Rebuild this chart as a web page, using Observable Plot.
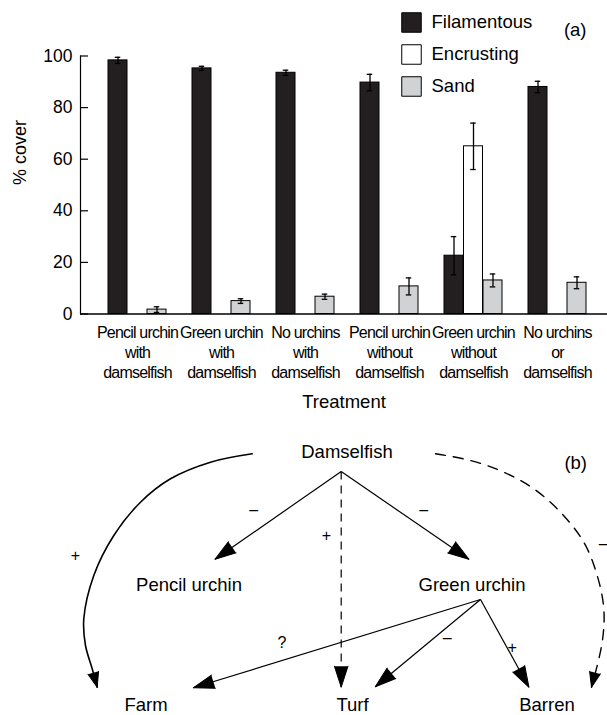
<!DOCTYPE html>
<html><head><meta charset="utf-8">
<script src="https://cdn.jsdelivr.net/npm/d3@7"></script>
<script src="https://cdn.jsdelivr.net/npm/@observablehq/plot@0.6"></script>
<style>
body{margin:0;background:#fff;}
#fig{position:relative;width:607px;height:715px;font-family:"Liberation Sans",Arial,Helvetica,sans-serif;}
#fig svg{display:block;}
#legend{position:absolute;left:401px;top:0;}
#a g[aria-label="x-axis tick label"]{letter-spacing:-0.8px;}
</style></head><body>
<div id="fig"><div id="a"></div><div id="b"></div><div id="legend"></div></div>
<script>
// ---------- Data: panel (a) ----------
const treatments = [
  "Pencil urchin\nwith\ndamselfish",
  "Green urchin\nwith\ndamselfish",
  "No urchins\nwith\ndamselfish",
  "Pencil urchin\nwithout\ndamselfish",
  "Green urchin\nwithout\ndamselfish",
  "No urchins\nor\ndamselfish"
];
const seriesNames = ["Filamentous", "Encrusting", "Sand"];
const seriesColors = ["#231f20", "#ffffff", "#d1d2d4"];
const filamentous    = [98.3, 95.2, 93.5, 89.7, 22.6, 88.0];
const filamentousErr = [1.2, 0.8, 1.0, 3.2, 7.4, 2.2];
const encrusting     = [0, 0, 0, 0, 65.0, 0];
const encrustingErr  = [0, 0, 0, 0, 9.0, 0];
const sand           = [1.7, 5.0, 6.7, 10.7, 13.0, 12.1];
const sandErr        = [1.1, 0.9, 1.0, 3.3, 2.5, 2.3];
const yTicks = [0, 20, 40, 60, 80, 100];

// ---------- Data: panel (b) diagram ----------
const nodeNames = ["Damselfish", "Pencil urchin", "Green urchin", "Farm", "Turf", "Barren"];
const nodeX = [346.5, 188.5, 471.5, 145.5, 352, 546.5];
const nodeY = [37, 170, 170, 290, 290, 290];
const arrowX1 = [340.7, 340.7, 340.7, 480, 480, 480];
const arrowY1 = [56, 56, 56, 184, 184, 184];
const arrowX2 = [214.5, 468.4, 340.7, 192.8, 374.8, 528.4];
const arrowY2 = [143.8, 143.8, 271.7, 272.3, 271.2, 271.7];
const arrowDashed = [false, false, true, false, false, false];
const leftCurveX = [251.7, 210, 170, 140, 113.3, 93.3, 83.3, 85, 91.7, 96.7];
const leftCurveY = [38.3, 46.7, 63.3, 86.7, 120, 160, 203.3, 230, 253.3, 271.7];
const rightCurveX = [435, 470, 503.3, 533.3, 560, 583.3, 596.7, 603.3, 601.7, 591];
const rightCurveY = [38.3, 45, 56.7, 73.3, 96.7, 126.7, 160, 193.3, 226.7, 271.7];
const signText = ["–", "–", "+", "+", "–", "?", "–", "+"];
const signX = [253.3, 423.3, 326, 75, 602.7, 281.5, 446.7, 511.7];
const signY = [94, 94, 120, 140, 128, 227, 222, 232];

// ---------- Build tables ----------
const seriesValues = [filamentous, encrusting, sand];
const seriesErrs = [filamentousErr, encrustingErr, sandErr];
const rows = [];
treatments.forEach((t, i) => seriesNames.forEach((s, k) => rows.push({treatment: t, series: s, k, value: seriesValues[k][i], err: seriesErrs[k][i]})));

const FONT = '"Liberation Sans", Arial, Helvetica, sans-serif';
const bw = 19.5;           // one bar's width within a 3-bar group
const capInset = (3 * bw - 6) / 2;
const seriesLayout = [
  {insetLeft: 0, insetRight: 2 * bw, dx: -bw},
  {insetLeft: bw, insetRight: bw, dx: 0},
  {insetLeft: 2 * bw, insetRight: 0, dx: bw}
];

const marksA = [];
seriesNames.forEach((s, k) => {
  const d = rows.filter(r => r.series === s);
  const L = seriesLayout[k];
  marksA.push(Plot.barY(d, {x: "treatment", y: "value", fill: "series", stroke: "#000", strokeWidth: 1, insetLeft: L.insetLeft, insetRight: L.insetRight}));
});
seriesNames.forEach((s, k) => {
  const d = rows.filter(r => r.series === s && r.err > 0);
  const L = seriesLayout[k];
  marksA.push(Plot.ruleX(d, {x: "treatment", y1: r => r.value - r.err, y2: r => r.value + r.err, dx: L.dx, stroke: "#000", strokeWidth: 1.3}));
  marksA.push(Plot.tickY(d, {x: "treatment", y: r => r.value + r.err, dx: L.dx, insetLeft: capInset, insetRight: capInset, stroke: "#000", strokeWidth: 1.3}));
  marksA.push(Plot.tickY(d, {x: "treatment", y: r => r.value - r.err, dx: L.dx, insetLeft: capInset, insetRight: capInset, stroke: "#000", strokeWidth: 1.3}));
});
marksA.push(Plot.ruleY([0], {stroke: "#000", strokeWidth: 1.6}));
marksA.push(Plot.frame({anchor: "left", stroke: "#000", strokeWidth: 1.2}));
marksA.push(Plot.axisY({ticks: yTicks, tickSize: 8, dx: 8, tickPadding: 8, fontSize: 17.5, label: null, stroke: "#000", strokeWidth: 1.2}));
marksA.push(Plot.axisX({tickSize: 0, tickPadding: 9.5, fontSize: 16, lineHeight: 1.25, label: null}));
marksA.push(Plot.text(["% cover"], {frameAnchor: "left", dx: -60, rotate: -90, fontSize: 18}));
marksA.push(Plot.text(["Treatment"], {frameAnchor: "bottom", dy: 94, fontSize: 18.5}));
marksA.push(Plot.text(["(a)"], {frameAnchor: "top-right", dx: -21, dy: -33.5, fontSize: 18.5}));

const chartA = Plot.plot({
  width: 607, height: 415,
  marginLeft: 80, marginRight: 0, marginTop: 55.5, marginBottom: 101.5,
  style: {fontFamily: FONT, fontSize: "16px", background: "#fff", color: "#000"},
  x: {domain: treatments, paddingInner: 0.306, paddingOuter: 0.279, align: 0.585, axis: null},
  y: {domain: [0, 100], axis: null},
  color: {domain: seriesNames, range: seriesColors},
  marks: marksA
});
document.getElementById("a").appendChild(chartA);

// ---------- Legend ----------
const legend = Plot.plot({
  width: 170, height: 108,
  marginTop: 22, marginBottom: 22, marginLeft: 0, marginRight: 0,
  style: {fontFamily: FONT, background: "transparent", color: "#000"},
  y: {type: "point", domain: seriesNames, padding: 0, axis: null},
  color: {domain: seriesNames, range: seriesColors},
  marks: [
    Plot.dot(seriesNames, {y: d => d, fill: d => d, symbol: "square", r: 11, stroke: "#000", strokeWidth: 1, frameAnchor: "left", dx: 10}),
    Plot.text(seriesNames, {y: d => d, text: d => d, frameAnchor: "left", dx: 30, textAnchor: "start", fontSize: 18.5})
  ]
});
document.getElementById("legend").appendChild(legend);

// ---------- Panel (b) ----------
const nodes = nodeNames.map((n, i) => ({name: n, x: nodeX[i], y: nodeY[i]}));
const arrows = arrowX1.map((_, i) => ({x1: arrowX1[i], y1: arrowY1[i], x2: arrowX2[i], y2: arrowY2[i], dashed: arrowDashed[i]}));
const heading = (x1, y1, x2, y2) => Math.atan2(x2 - x1, -(y2 - y1)) * 180 / Math.PI;
const heads = arrows.map(a => ({x: a.x2, y: a.y2, angle: heading(a.x1, a.y1, a.x2, a.y2)}));
const leftCurve = leftCurveX.map((x, i) => ({x, y: leftCurveY[i]}));
const rightCurve = rightCurveX.map((x, i) => ({x, y: rightCurveY[i]}));
const nL = leftCurve.length, nR = rightCurve.length;
const curveHeads = [
  {x: leftCurve[nL - 1].x, y: leftCurve[nL - 1].y, angle: heading(leftCurve[nL - 2].x, leftCurve[nL - 2].y, leftCurve[nL - 1].x, leftCurve[nL - 1].y)},
  {x: rightCurve[nR - 1].x, y: rightCurve[nR - 1].y, angle: heading(rightCurve[nR - 2].x, rightCurve[nR - 2].y, rightCurve[nR - 1].x, rightCurve[nR - 1].y)}
];
const signs = signText.map((t, i) => ({t, x: signX[i], y: signY[i]}));

const chartB = Plot.plot({
  width: 607, height: 300,
  margin: 0,
  style: {fontFamily: FONT, background: "#fff", color: "#000"},
  x: {domain: [0, 607], range: [0, 607], axis: null},
  y: {domain: [0, 300], range: [0, 300], axis: null},
  marks: [
    Plot.link(arrows.filter(a => !a.dashed), {x1: "x1", y1: "y1", x2: "x2", y2: "y2", stroke: "#000", strokeWidth: 1.2}),
    Plot.link(arrows.filter(a => a.dashed), {x1: "x1", y1: "y1", x2: "x2", y2: "y2", stroke: "#000", strokeWidth: 1.2, strokeDasharray: "8,6"}),
    Plot.line(leftCurve, {x: "x", y: "y", curve: "catmull-rom", stroke: "#000", strokeWidth: 1.6}),
    Plot.line(rightCurve, {x: "x", y: "y", curve: "catmull-rom", stroke: "#000", strokeWidth: 1.4, strokeDasharray: "10,8"}),
    Plot.vector(heads, {x: "x", y: "y", rotate: "angle", length: 21, r: 6.8, shape: "spike", anchor: "end", fill: "#000", stroke: "#000", strokeWidth: 1}),
    Plot.vector(curveHeads, {x: "x", y: "y", rotate: "angle", length: 15, r: 5.5, shape: "spike", anchor: "end", fill: "#000", stroke: "#000", strokeWidth: 1}),
    Plot.text(nodes, {x: "x", y: "y", text: "name", fontSize: 18.5}),
    Plot.text(signs, {x: "x", y: "y", text: "t", fontSize: 16, fill: "#000"}),
    Plot.text(["(b)"], {frameAnchor: "top-right", dx: -20.5, dy: 40, fontSize: 18.5})
  ]
});
document.getElementById("b").appendChild(chartB);
</script>
</body></html>
